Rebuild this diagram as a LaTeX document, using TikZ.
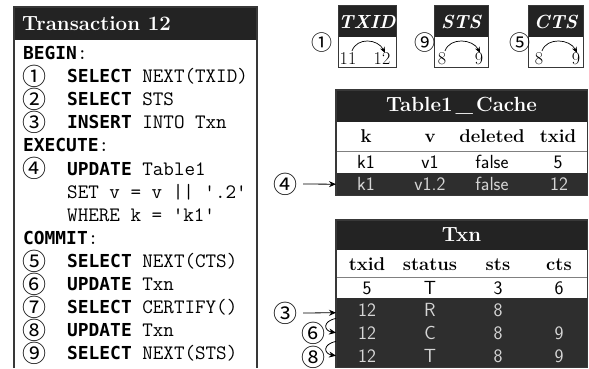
\documentclass[tikz,border=0pt]{standalone}
\usepackage{fontspec}
\usetikzlibrary{arrows.meta}
\newfontfamily\sqlkwfont{DejaVu Sans Mono}[Scale=0.872]
\newfontfamily\circfont{Noto Sans CJK SC}
\newcommand\sqlkw[1]{{\sqlkwfont\bfseries #1}}
\definecolor{bar}{HTML}{232323}
\definecolor{darkrow}{HTML}{2E2E2E}
\definecolor{lighttext}{HTML}{D6D6D6}
\definecolor{rim}{HTML}{383838}
\begin{document}
\begin{tikzpicture}[x=1pt,y=-1pt,
  codeline/.style={anchor=base west, inner sep=0pt, font=\fontsize{20.5}{23}\selectfont\ttfamily},
  stepnum/.style={anchor=center, inner sep=0pt, font=\circfont\fontsize{24}{24}\selectfont},
  smallnum/.style={stepnum, font=\circfont\fontsize{21}{21}\selectfont},
  bartitle/.style={text=white, inner sep=0pt, font=\bfseries\fontsize{20.5}{20.5}\selectfont},
  cnttitle/.style={text=white, inner sep=0pt, anchor=base, font=\bfseries\itshape\fontsize{19}{19}\selectfont},
  cntval/.style={inner sep=1pt, anchor=base, font=\fontsize{18}{18}\selectfont},
  head/.style={inner sep=0pt, anchor=base, font=\bfseries\fontsize{18.5}{18.5}\selectfont},
  cell/.style={inner sep=0pt, anchor=base, font=\sffamily\fontsize{19}{19}\selectfont},
  darkcell/.style={cell, text=lighttext},
  rowbox/.style={rectangle, inner sep=0pt, minimum width=251pt, anchor=north west},
  rimline/.style={draw=rim, line width=1.3pt},
  arr/.style={-{Stealth[length=7pt,width=6pt]}, line width=0.8pt},
  carr/.style={-{Stealth[length=6pt,width=5pt]}, line width=0.7pt}]
\useasboundingbox (0,0) rectangle (589,368);

% ---------- transaction listing ----------
\fill[bar] (14,7) rectangle (257,40);
\draw[rimline] (14,368) -- (14,7) -- (257,7) -- (257,368);
\node[bartitle, anchor=base west] (txtitle) at (22,30) {Transaction 12};

\node[codeline] (l0) at (23,59.5) {\sqlkw{BEGIN}:};
\node[stepnum] (n1) at (35,76.1) {①};
\node[codeline] (l1) at (67,82.6) {\sqlkw{SELECT} NEXT(TXID)};
\node[stepnum] (n2) at (35,99.2) {②};
\node[codeline] (l2) at (67,105.7) {\sqlkw{SELECT} STS};
\node[stepnum] (n3) at (35,122.3) {③};
\node[codeline] (l3) at (67,128.8) {\sqlkw{INSERT} INTO Txn};
\node[codeline] (l4) at (23,151.9) {\sqlkw{EXECUTE}:};
\node[stepnum] (n4) at (35,168.5) {④};
\node[codeline] (l5) at (67,175.0) {\sqlkw{UPDATE} Table1};
\node[codeline] (l6) at (67,198.1) {SET v = v || '.2'};
\node[codeline] (l7) at (67,221.2) {WHERE k = 'k1'};
\node[codeline] (l8) at (23,244.3) {\sqlkw{COMMIT}:};
\node[stepnum] (n5) at (35,260.9) {⑤};
\node[codeline] (l9) at (67,267.4) {\sqlkw{SELECT} NEXT(CTS)};
\node[stepnum] (n6) at (35,284.0) {⑥};
\node[codeline] (l10) at (67,290.5) {\sqlkw{UPDATE} Txn};
\node[stepnum] (n7) at (35,307.1) {⑦};
\node[codeline] (l11) at (67,313.6) {\sqlkw{SELECT} CERTIFY()};
\node[stepnum] (n8) at (35,330.2) {⑧};
\node[codeline] (l12) at (67,336.7) {\sqlkw{UPDATE} Txn};
\node[stepnum] (n9) at (35,353.3) {⑨};
\node[codeline] (l13) at (67,359.8) {\sqlkw{SELECT} NEXT(STS)};

% ---------- sequence counters ----------
\foreach \name/\xa/\xb/\lbl in {cT/338/396/TXID, cS/434/488/STS, cC/528/583/CTS}{
  \fill[bar] (\xa,5) rectangle (\xb,37);
  \fill[white] (\xa,37) rectangle (\xb,67);
  \draw[rim, line width=1pt] (\xa,5) rectangle (\xb,67);
  \node[cnttitle] (\name lbl) at ({(\xa+\xb)/2},28) {\lbl};
}
\node[cntval] (t11) at (348,64) {11};
\node[cntval] (t12) at (382,64) {12};
\node[cntval] (s8) at (442,64) {8};
\node[cntval] (s9) at (479,64) {9};
\node[cntval] (k8) at (539,64) {8};
\node[cntval] (k9) at (576,64) {9};
\draw[carr] ([xshift=4pt]t11.north) .. controls +(5,-14) and +(-7,-14) .. ([xshift=3pt,yshift=-2pt]t12.north);
\draw[carr] ([xshift=3pt]s8.north) .. controls +(5,-14) and +(-7,-14) .. ([xshift=1pt,yshift=-2pt]s9.north);
\draw[carr] ([xshift=3pt]k8.north) .. controls +(5,-14) and +(-7,-14) .. ([xshift=1pt,yshift=-2pt]k9.north);
\node[smallnum] (m1) at (322,43) {①};
\node[smallnum] (m9) at (425,43) {⑨};
\node[smallnum] (m5) at (520,43) {⑤};

% ---------- Table1_Cache ----------
\node[rowbox, fill=bar, minimum height=32pt] (cacheTitle) at (336,90) {};
\node[rowbox, fill=white, minimum height=29pt] (cacheHead) at (336,122) {};
\node[rowbox, fill=white, minimum height=22pt] (c1) at (336,151) {};
\node[rowbox, fill=darkrow, minimum height=22pt] (c2) at (336,173) {};
\draw[gray, line width=0.8pt] (cacheHead.south west) -- (cacheHead.south east);
\draw[rimline] (cacheTitle.north west) rectangle (c2.south east);
\node[bartitle] (cacheName) at (461.5,106) {Table1\kern3pt\_\kern3pt Cache};
\foreach \x/\t [count=\i] in {366/k, 430/v, 492/deleted, 558/txid}
  \node[head] (ch\i) at (\x,142.5) {\t};
\foreach \x/\t [count=\i] in {366/k1, 430/v1, 492/false, 558/5}
  \node[cell] (ca\i) at (\x,168.5) {\t};
\foreach \x/\t [count=\i] in {366/k1, 430/v1.2, 492/false, 559/12}
  \node[darkcell] (cb\i) at (\x,190.5) {\t};

% ---------- Txn ----------
\node[rowbox, fill=bar, minimum height=30pt] (txnTitle) at (336,220) {};
\node[rowbox, fill=white, minimum height=27pt] (txnHead) at (336,250) {};
\node[rowbox, fill=white, minimum height=21pt] (r1) at (336,277) {};
\node[rowbox, fill=darkrow, minimum height=23pt] (r2) at (336,298) {};
\node[rowbox, fill=darkrow, minimum height=23pt] (r3) at (336,321) {};
\node[rowbox, fill=darkrow, minimum height=23pt] (r4) at (336,344) {};
\draw[gray, line width=0.8pt] (txnHead.south west) -- (txnHead.south east);
\draw[rimline] (txnTitle.north west) rectangle (r4.south east);
\node[bartitle] (txnName) at (461.5,235) {Txn};
\foreach \x/\t [count=\i] in {367/txid, 430/status, 498/sts, 559/cts}
  \node[head] (th\i) at (\x,270) {\t};
\foreach \x/\t [count=\i] in {367/5, 430/T, 498/3, 559/6}
  \node[cell] (ta\i) at (\x,294.5) {\t};
\foreach \x/\t [count=\i] in {367/12, 430/R, 498/8}
  \node[darkcell] (tb\i) at (\x,316.5) {\t};
\foreach \x/\t [count=\i] in {367/12, 430/C, 498/8, 559/9}
  \node[darkcell] (tc\i) at (\x,339.5) {\t};
\foreach \x/\t [count=\i] in {367/12, 430/T, 498/8, 559/9}
  \node[darkcell] (td\i) at (\x,362.5) {\t};

% ---------- step arrows ----------
\node[stepnum] (a4) at (285,184) {④};
\draw[arr] ([xshift=6pt]a4.east) -- (c2.west);
\node[stepnum] (a3) at (285,313) {③};
\draw[arr] ([xshift=6pt]a3.east) -- ([yshift=-3pt]r2.west);
\node[stepnum] (a6) at (313,333) {⑥};
\draw[arr] ([yshift=3pt]r2.south west) .. controls +(-14,3) and +(-12,-2) .. (r3.west);
\node[stepnum] (a8) at (313,357) {⑧};
\draw[arr] ([yshift=3pt]r3.south west) .. controls +(-14,3) and +(-12,-2) .. (r4.west);
\end{tikzpicture}
\end{document}
